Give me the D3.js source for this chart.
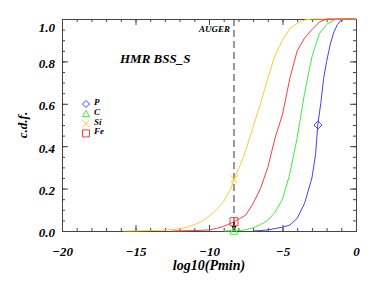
<!DOCTYPE html>
<html>
<head>
<meta charset="utf-8">
<script src="https://cdn.jsdelivr.net/npm/d3@7"></script>
<style>
  body { margin: 0; background: #fff; }
  svg text { font-family: "Liberation Serif", "DejaVu Serif", serif; font-style: italic; font-weight: bold; fill: #000; }
  .axis path, .axis line { stroke: #444; }
</style>
</head>
<body>
<div id="chart"></div>
<script>
// log10(Pmin) vs c.d.f. for each primary
const cdfP = [[-7, 0], [-6, 0.005], [-5, 0.018], [-4.5, 0.028], [-4, 0.06], [-3.5, 0.13], [-3, 0.25], [-2.75, 0.36], [-2.6, 0.5], [-2.4, 0.6], [-2.2, 0.72], [-2, 0.8], [-1.75, 0.88], [-1.5, 0.94], [-1.25, 0.975], [-1, 0.995], [-0.6, 1], [0, 1]];
const cdfC = [[-9, 0], [-8, 0.002], [-7.5, 0.006], [-7, 0.015], [-6.5, 0.03], [-6, 0.05], [-5.5, 0.09], [-5, 0.15], [-4.5, 0.27], [-4, 0.44], [-3.5, 0.65], [-3, 0.82], [-2.5, 0.93], [-2, 0.975], [-1.5, 0.995], [-1.2, 1], [0, 1]];
const cdfSi = [[-15.8, 0], [-14, 0.002], [-13, 0.005], [-12, 0.01], [-11.5, 0.018], [-11, 0.03], [-10.5, 0.045], [-10, 0.07], [-9.5, 0.1], [-9, 0.14], [-8.5, 0.2], [-8.3, 0.244], [-8, 0.29], [-7.5, 0.38], [-7, 0.49], [-6.5, 0.6], [-6, 0.72], [-5.5, 0.83], [-5, 0.9], [-4.5, 0.955], [-4, 0.98], [-3.5, 0.995], [-3, 1], [0, 1]];
const cdfFe = [[-12.5, 0], [-11, 0.002], [-10, 0.005], [-9.5, 0.012], [-9, 0.022], [-8.5, 0.037], [-8, 0.055], [-7.5, 0.075], [-7, 0.13], [-6.5, 0.2], [-6, 0.3], [-5.5, 0.44], [-5, 0.55], [-4.5, 0.72], [-4, 0.85], [-3.5, 0.91], [-3, 0.95], [-2.5, 0.985], [-2, 1], [0, 1]];

const names = ["P", "C", "Si", "Fe"];
const colors = ["#4a3cff", "#3cf03c", "#ffc832", "#ff3c3c"];
const symbols = ["diamond", "triangle", "cross", "square"];

const augerX = -8.3;
// markers drawn on the curves: [series index, x, y]
const markers = [[0, -2.59, 0.5], [1, -8.3, 0.0], [2, -8.3, 0.244], [3, -8.3, 0.044]];

const xMajor = [-20, -15, -10, -5, 0];
const yMajor = [0, 0.2, 0.4, 0.6, 0.8, 1.0];

const width = 374, height = 281;
const margin = { top: 19, right: 18, bottom: 50, left: 62 };

const x = d3.scaleLinear().domain([-20, 0]).range([margin.left, width - margin.right]);
const y = d3.scaleLinear().domain([0, 1]).range([height - margin.bottom, margin.top]);

const svg = d3.select("#chart").append("svg")
  .attr("width", width).attr("height", height)
  .attr("viewBox", [0, 0, width, height]);

const xMinor = d3.range(-20, 0.5, 1);
const yMinor = d3.range(0, 1.001, 0.05);

function plain(g) {
  g.attr("font-size", null).attr("font-family", null);
}

// minor ticks on all four sides
svg.append("g").attr("class", "axis")
  .attr("transform", `translate(0,${y(0)})`)
  .call(d3.axisBottom(x).tickValues(xMinor).tickSizeInner(-3).tickSizeOuter(0).tickFormat(""));
svg.append("g").attr("class", "axis")
  .attr("transform", `translate(0,${y(1)})`)
  .call(d3.axisTop(x).tickValues(xMinor).tickSizeInner(-3).tickSizeOuter(0).tickFormat(""));
svg.append("g").attr("class", "axis")
  .attr("transform", `translate(${x(-20)},0)`)
  .call(d3.axisLeft(y).tickValues(yMinor).tickSizeInner(-3).tickSizeOuter(0).tickFormat(""));
svg.append("g").attr("class", "axis")
  .attr("transform", `translate(${x(0)},0)`)
  .call(d3.axisRight(y).tickValues(yMinor).tickSizeInner(-3).tickSizeOuter(0).tickFormat(""));

// major ticks
svg.append("g").attr("class", "axis")
  .attr("transform", `translate(0,${y(1)})`)
  .call(d3.axisTop(x).tickValues(xMajor).tickSizeInner(-6).tickSizeOuter(0).tickFormat(""));
svg.append("g").attr("class", "axis")
  .attr("transform", `translate(${x(0)},0)`)
  .call(d3.axisRight(y).tickValues(yMajor).tickSizeInner(-6).tickSizeOuter(0).tickFormat(""));

svg.append("g").attr("class", "axis")
  .attr("transform", `translate(0,${y(0)})`)
  .call(d3.axisBottom(x).tickValues(xMajor).tickSizeInner(-6).tickSizeOuter(0).tickPadding(16).tickFormat(d3.format("d")))
  .call(plain)
  .call((g) => g.selectAll("text").attr("font-size", 13));

svg.append("g").attr("class", "axis")
  .attr("transform", `translate(${x(-20)},0)`)
  .call(d3.axisLeft(y).tickValues(yMajor).tickSizeInner(-6).tickSizeOuter(0).tickPadding(7).tickFormat(d3.format(".1f")))
  .call(plain)
  .call((g) => g.selectAll("text").attr("font-size", 13)
    .attr("dy", (d) => (d === 1 ? "0.95em" : "0.45em")));

// axis titles
svg.append("text")
  .attr("text-anchor", "middle")
  .attr("font-size", 14)
  .attr("x", (x(-20) + x(0)) / 2)
  .attr("y", 270)
  .text("log10(Pmin)");

svg.append("text")
  .attr("text-anchor", "middle")
  .attr("font-size", 13)
  .attr("transform", `translate(27,${(y(0) + y(1)) / 2}) rotate(-90)`)
  .text("c.d.f.");

svg.append("text")
  .attr("font-size", 13)
  .attr("x", 120)
  .attr("y", 63)
  .text("HMR BSS_S");

// AUGER line
svg.append("line")
  .attr("x1", x(augerX)).attr("x2", x(augerX))
  .attr("y1", y(1)).attr("y2", y(0) - 8)
  .attr("stroke", "#333")
  .attr("stroke-dasharray", "7,4");

svg.append("text")
  .attr("font-size", 9)
  .attr("text-anchor", "end")
  .attr("x", x(augerX) - 4)
  .attr("y", 32)
  .text("AUGER");

svg.append("path")
  .attr("d", `M${x(augerX) - 2.5},${y(0) - 5}L${x(augerX) + 2.5},${y(0) - 5}L${x(augerX)},${y(0)}Z`)
  .attr("fill", "#000");
svg.append("line")
  .attr("x1", x(augerX)).attr("x2", x(augerX))
  .attr("y1", y(0) - 9).attr("y2", y(0) - 4)
  .attr("stroke", "#000").attr("stroke-width", 1.5);

// curves
const line = d3.line().x((d) => x(d[0])).y((d) => y(d[1]));
const series = [cdfP, cdfC, cdfSi, cdfFe];
svg.append("g")
  .selectAll("path")
  .data(series)
  .join("path")
  .attr("fill", "none")
  .attr("stroke", (d, i) => colors[i])
  .attr("stroke-width", 1)
  .attr("d", line);

function symbolPath(type, s) {
  if (type === "diamond") return `M0,${-s}L${s},0L0,${s}L${-s},0Z`;
  if (type === "triangle") return `M0,${-s}L${s},${s * 0.8}L${-s},${s * 0.8}Z`;
  if (type === "cross") return `M${-s},${-s}L${s},${s}M${-s},${s}L${s},${-s}`;
  return `M${-s},${-s}L${s},${-s}L${s},${s}L${-s},${s}Z`;
}

svg.append("g")
  .selectAll("path")
  .data(markers)
  .join("path")
  .attr("transform", (d) => `translate(${x(d[1])},${y(d[2])})`)
  .attr("d", (d) => symbolPath(symbols[d[0]], 4))
  .attr("fill", "none")
  .attr("stroke", (d) => colors[d[0]])
  .attr("stroke-width", 1);

// legend
const legend = svg.append("g").attr("transform", "translate(86,104)");
const item = legend.selectAll("g")
  .data(names)
  .join("g")
  .attr("transform", (d, i) => `translate(0,${i * 9.8})`);
item.append("path")
  .attr("d", (d, i) => symbolPath(symbols[i], 3.5))
  .attr("fill", "none")
  .attr("stroke", (d, i) => colors[i]);
item.append("text")
  .attr("x", 8)
  .attr("dy", "0.1em")
  .attr("font-size", 9)
  .text((d) => d);
</script>
</body>
</html>
